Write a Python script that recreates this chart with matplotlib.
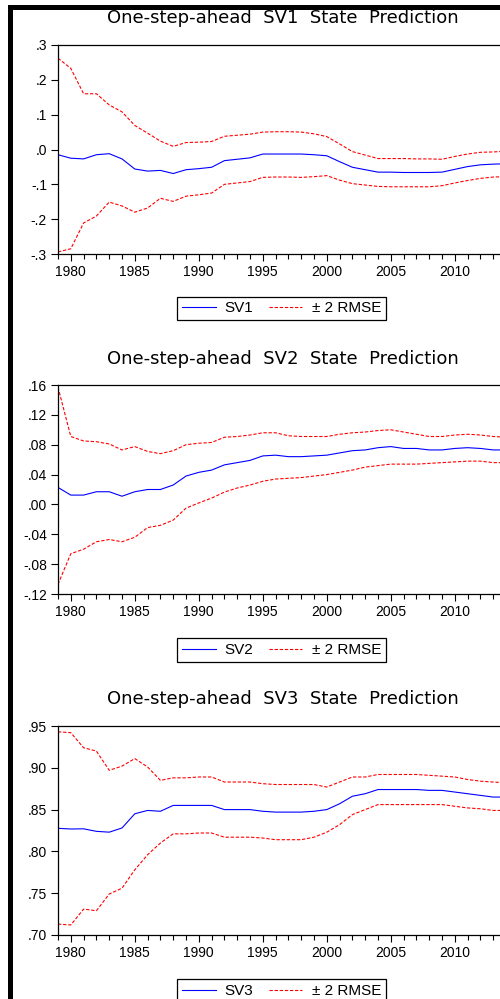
import matplotlib
matplotlib.use("Agg")
import matplotlib.pyplot as plt
from matplotlib.ticker import FixedLocator, MultipleLocator
from matplotlib.patches import Rectangle
from matplotlib.lines import Line2D

plt.rcParams['font.family'] = ['Liberation Sans', 'DejaVu Sans']

years = list(range(1979, 2015))

sv1 = [-0.015, -0.025, -0.027, -0.015, -0.012, -0.027, -0.056, -0.062, -0.060, -0.069,
       -0.058, -0.055, -0.051, -0.032, -0.028, -0.024, -0.013, -0.013, -0.013, -0.013,
       -0.015, -0.018, -0.035, -0.051, -0.058, -0.065, -0.065, -0.066, -0.066, -0.066,
       -0.065, -0.057, -0.049, -0.044, -0.042, -0.041]
sv1_up = [0.262, 0.233, 0.160, 0.160, 0.128, 0.108, 0.069, 0.047, 0.024, 0.009,
          0.020, 0.021, 0.023, 0.038, 0.041, 0.044, 0.050, 0.051, 0.051, 0.050,
          0.045, 0.037, 0.016, -0.006, -0.016, -0.026, -0.026, -0.026, -0.027, -0.027,
          -0.028, -0.020, -0.013, -0.008, -0.007, -0.005]
sv1_lo = [-0.294, -0.285, -0.211, -0.191, -0.151, -0.162, -0.180, -0.168, -0.140, -0.149,
          -0.134, -0.130, -0.125, -0.100, -0.096, -0.092, -0.080, -0.079, -0.079, -0.080,
          -0.078, -0.075, -0.088, -0.098, -0.102, -0.106, -0.107, -0.107, -0.107, -0.107,
          -0.104, -0.096, -0.089, -0.083, -0.079, -0.078]

sv2 = [0.0228, 0.0125, 0.0125, 0.017, 0.017, 0.011, 0.017, 0.020, 0.020, 0.026,
       0.038, 0.043, 0.046, 0.053, 0.056, 0.059, 0.065, 0.066, 0.064, 0.064,
       0.065, 0.066, 0.069, 0.072, 0.073, 0.076, 0.0775, 0.075, 0.075, 0.073,
       0.073, 0.075, 0.076, 0.075, 0.073, 0.073]
sv2_up = [0.157, 0.091, 0.085, 0.084, 0.081, 0.073, 0.0775, 0.071, 0.068, 0.072,
          0.080, 0.082, 0.083, 0.090, 0.091, 0.093, 0.096, 0.096, 0.092, 0.091,
          0.091, 0.091, 0.094, 0.096, 0.097, 0.099, 0.100, 0.097, 0.094, 0.091,
          0.091, 0.093, 0.094, 0.093, 0.091, 0.090]
sv2_lo = [-0.107, -0.066, -0.060, -0.050, -0.047, -0.050, -0.044, -0.031, -0.028, -0.021,
          -0.005, 0.002, 0.0085, 0.0165, 0.022, 0.026, 0.031, 0.034, 0.035, 0.036,
          0.038, 0.040, 0.043, 0.046, 0.050, 0.052, 0.054, 0.054, 0.054, 0.055,
          0.056, 0.057, 0.058, 0.058, 0.056, 0.056]

sv3 = [0.8276, 0.8268, 0.827, 0.824, 0.823, 0.828, 0.845, 0.849, 0.848, 0.855,
       0.855, 0.855, 0.855, 0.850, 0.850, 0.850, 0.848, 0.847, 0.847, 0.847,
       0.848, 0.850, 0.857, 0.866, 0.869, 0.874, 0.874, 0.874, 0.874, 0.873,
       0.873, 0.871, 0.869, 0.867, 0.865, 0.865]
sv3_up = [0.943, 0.942, 0.924, 0.920, 0.897, 0.902, 0.911, 0.901, 0.885, 0.888,
          0.888, 0.889, 0.889, 0.883, 0.883, 0.883, 0.881, 0.880, 0.880, 0.880,
          0.880, 0.877, 0.883, 0.889, 0.889, 0.892, 0.892, 0.892, 0.892, 0.891,
          0.890, 0.889, 0.886, 0.884, 0.883, 0.882]
sv3_lo = [0.713, 0.712, 0.731, 0.729, 0.749, 0.756, 0.778, 0.796, 0.810, 0.821,
          0.821, 0.822, 0.822, 0.817, 0.817, 0.817, 0.816, 0.814, 0.814, 0.814,
          0.817, 0.823, 0.832, 0.844, 0.850, 0.856, 0.856, 0.856, 0.856, 0.856,
          0.856, 0.854, 0.852, 0.851, 0.849, 0.849]

titles = ["One-step-ahead  SV1  State  Prediction",
          "One-step-ahead  SV2  State  Prediction",
          "One-step-ahead  SV3  State  Prediction"]
series_names = ["SV1", "SV2", "SV3"]
band_label = "\u00b1 2 RMSE"

y1_ticks = [-0.3, -0.2, -0.1, 0.0, 0.1, 0.2, 0.3]
y1_labels = ["-.3", "-.2", "-.1", ".0", ".1", ".2", ".3"]
y2_ticks = [-0.12, -0.08, -0.04, 0.0, 0.04, 0.08, 0.12, 0.16]
y2_labels = ["-.12", "-.08", "-.04", ".00", ".04", ".08", ".12", ".16"]
y3_ticks = [0.70, 0.75, 0.80, 0.85, 0.90, 0.95]
y3_labels = [".70", ".75", ".80", ".85", ".90", ".95"]
x_ticks = [1980, 1985, 1990, 1995, 2000, 2005, 2010]
x_labels = ["1980", "1985", "1990", "1995", "2000", "2005", "2010"]

W, H = 500, 999
fig = plt.figure(figsize=(W / 100, H / 100), dpi=100)

# black frame (left and top)
fig.patches.append(Rectangle((8 / W, 0), 5 / W, 1 - 5 / H, transform=fig.transFigure,
                             facecolor='black', edgecolor='none'))
fig.patches.append(Rectangle((8 / W, 1 - 10 / H), 1, 5 / H, transform=fig.transFigure,
                             facecolor='black', edgecolor='none'))

panels = [
    (sv1, sv1_up, sv1_lo, y1_ticks, y1_labels, 45, 254, 18, 308.5),
    (sv2, sv2_up, sv2_lo, y2_ticks, y2_labels, 385, 594, 359, 650),
    (sv3, sv3_up, sv3_lo, y3_ticks, y3_labels, 726, 935, 699, 991),
]

left_px, right_px = 58, 506
red_dash = (0, (3.0, 1.6))
for i, (mid, up, lo, yt, yl, top_px, bot_px, title_y, leg_y) in enumerate(panels):
    ax = fig.add_axes([left_px / W, 1 - bot_px / H, (right_px - left_px) / W,
                       (bot_px - top_px) / H])
    ax.plot(years, mid, color='#0000ff', lw=0.8)
    ax.plot(years, up, color='#ff0000', lw=0.8, ls=red_dash)
    ax.plot(years, lo, color='#ff0000', lw=0.8, ls=red_dash)
    ax.set_xlim(1979, 2014)
    ax.set_ylim(yt[0], yt[-1])
    ax.yaxis.set_major_locator(FixedLocator(yt))
    ax.set_yticklabels(yl)
    ax.xaxis.set_major_locator(FixedLocator(x_ticks))
    ax.set_xticklabels(x_labels)
    ax.xaxis.set_minor_locator(MultipleLocator(1))
    ax.tick_params(axis='both', which='major', direction='out', length=5, width=0.8,
                   labelsize=10, pad=3, colors='black')
    ax.tick_params(axis='x', which='minor', direction='out', length=3.5, width=0.8)
    for s in ax.spines.values():
        s.set_linewidth(0.9)
        s.set_color('black')
    fig.text(283 / W, 1 - title_y / H, titles[i], ha='center', va='center',
             fontsize=13, family=['DejaVu Sans'])
    handles = [Line2D([], [], color='#0000ff', lw=0.8),
               Line2D([], [], color='#ff0000', lw=0.8, ls=red_dash)]
    leg = ax.legend(handles, [series_names[i], band_label], loc='center',
                    bbox_to_anchor=(281.5 / W, 1 - leg_y / H),
                    bbox_transform=fig.transFigure, ncol=2, fontsize=11,
                    frameon=True, fancybox=False, framealpha=1, edgecolor='black',
                    handlelength=2.2, handletextpad=0.6, columnspacing=1.0,
                    borderpad=0.3, borderaxespad=0)
    leg.get_frame().set_linewidth(0.9)

fig.savefig("out.png", dpi=100)
